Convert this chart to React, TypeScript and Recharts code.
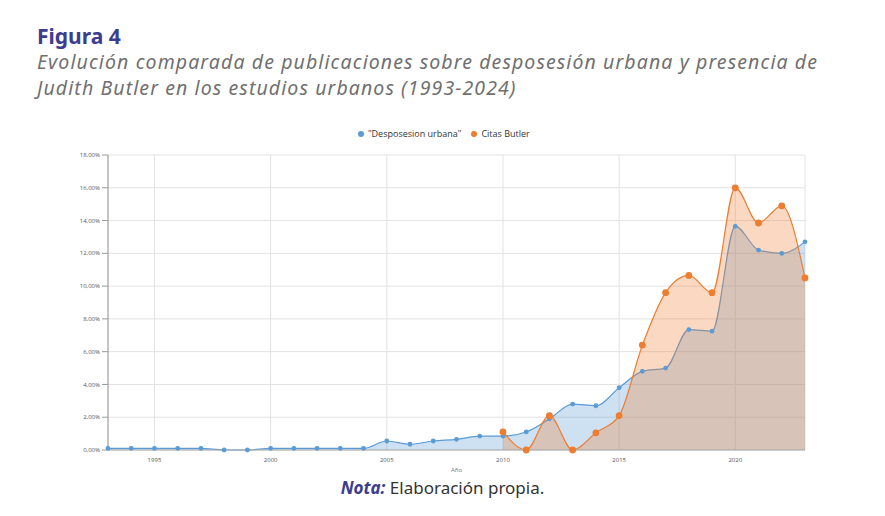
import React from 'react';
import { ComposedChart, Area, XAxis, YAxis, CartesianGrid } from 'recharts';

const years = [1993, 1994, 1995, 1996, 1997, 1998, 1999, 2000, 2001, 2002, 2003, 2004, 2005, 2006, 2007, 2008,
  2009, 2010, 2011, 2012, 2013, 2014, 2015, 2016, 2017, 2018, 2019, 2020, 2021, 2022, 2023];
const desposesion = [0.1, 0.1, 0.1, 0.1, 0.1, 0, 0, 0.1, 0.1, 0.1, 0.1, 0.1, 0.55, 0.35, 0.55, 0.65,
  0.85, 0.85, 1.1, 1.9, 2.8, 2.7, 3.8, 4.8, 5.0, 7.35, 7.25, 13.65, 12.2, 12.0, 12.7];
const butler = [null, null, null, null, null, null, null, null, null, null, null, null, null, null, null, null,
  null, 1.1, 0, 2.1, 0, 1.05, 2.1, 6.4, 9.6, 10.65, 9.6, 16.0, 13.85, 14.9, 10.5];
const xTicks = [1995, 2000, 2005, 2010, 2015, 2020];
const yTicks = [0, 2, 4, 6, 8, 10, 12, 14, 16, 18];

const data = years.map((y, i) => ({ year: y, d: desposesion[i], b: butler[i] }));

const BLUE = '#5b9bd5';
const ORANGE = '#ed7d31';

export default function App() {
  return (
    <div style={{ position: 'absolute', left: 0, top: 0, width: 885, height: 516, background: '#fff', fontFamily: '"Open Sans", sans-serif' }}>
      <div style={{ position: 'absolute', left: 37, top: 22, fontSize: 21, fontWeight: 700, color: '#3c3d8f', fontFamily: '"Noto Sans", sans-serif', lineHeight: '28px' }}>Figura 4</div>
      <div style={{ position: 'absolute', left: 37, top: 49, width: 830, fontSize: 19.5, fontStyle: 'italic', color: '#707070', lineHeight: '26px', letterSpacing: 1.1, fontFamily: '"Noto Sans", sans-serif' }}>
        Evolución comparada de publicaciones sobre desposesión urbana y presencia de Judith Butler en los estudios urbanos (1993-2024)
      </div>
      <div style={{ position: 'absolute', left: 358, top: 127, fontSize: 9, color: '#333', display: 'flex', gap: 10 }}>
        <span><span style={{ display: 'inline-block', width: 6, height: 6, borderRadius: 3, background: BLUE, marginRight: 4 }} />"Desposesion urbana"</span>
        <span><span style={{ display: 'inline-block', width: 6, height: 6, borderRadius: 3, background: ORANGE, marginRight: 4 }} />Citas Butler</span>
      </div>
      <div style={{ position: 'absolute', left: 0, top: 120 }}>
        <ComposedChart width={885} height={360} data={data} margin={{ top: 35, right: 80, left: 68, bottom: 0 }}>
          <CartesianGrid stroke="#e2e2e2" />
          <XAxis dataKey="year" type="number" domain={[1993, 2023]} ticks={xTicks} tick={{ fontSize: 6, fill: '#555' }}
            tickLine={false} stroke="#aaa" height={30}
            label={{ value: 'Año', position: 'insideBottom', offset: 8, fontSize: 6, fill: '#777' }} />
          <YAxis domain={[0, 18]} ticks={yTicks} width={40} tick={{ fontSize: 6, fill: '#555' }} stroke="#999"
            tickFormatter={(v: number) => v.toFixed(2).replace('.', ',') + '%'} />
          <Area type="monotone" dataKey="d" stroke={BLUE} strokeWidth={1.2} fill={BLUE} fillOpacity={0.3}
            dot={{ r: 1.8, fill: BLUE, stroke: BLUE, fillOpacity: 1 }} isAnimationActive={false} />
          <Area type="monotone" dataKey="b" stroke={ORANGE} strokeWidth={1.2} fill={ORANGE} fillOpacity={0.3}
            dot={{ r: 2.8, fill: ORANGE, stroke: ORANGE, fillOpacity: 1 }} isAnimationActive={false} />
        </ComposedChart>
      </div>
      <div style={{ position: 'absolute', left: 0, width: 885, top: 476, textAlign: 'center', fontSize: 17, color: '#333', fontFamily: '"Noto Sans", sans-serif' }}>
        <span style={{ fontWeight: 700, fontStyle: 'italic', color: '#3c3d8f' }}>Nota:</span> Elaboración propia.
      </div>
    </div>
  );
}
